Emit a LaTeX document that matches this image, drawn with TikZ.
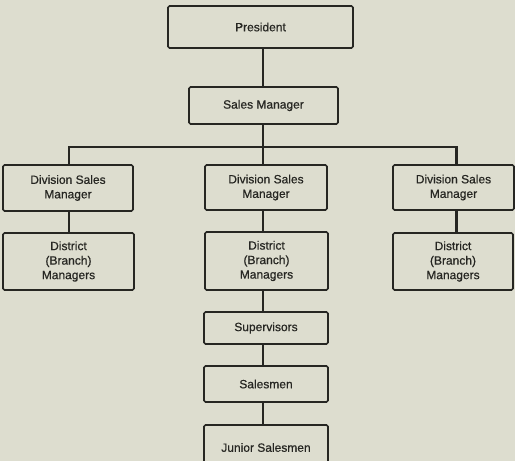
\documentclass[tikz,border=0pt]{standalone}
\usepackage{fontspec}
\setmainfont{Liberation Sans}
\newfontfamily\chartfont{Liberation Sans}[FakeBold=0.6]
\definecolor{paper}{RGB}{221,221,207}
\definecolor{ink}{RGB}{38,38,34}
\begin{document}
\begin{tikzpicture}[x=1pt,y=-1pt,
  box/.style={draw=ink, line width=1.6pt, rounded corners=1.5pt, align=center,
    inner sep=0pt, text=ink, font=\chartfont\fontsize{12}{14.5}\selectfont},
  link/.style={draw=ink, line width=2.2pt}]
\fill[paper] (0,0) rectangle (515,461);
\useasboundingbox (0,0) rectangle (515,461);
\clip (0,0) rectangle (515,461);

% top of the chart
\node[box, minimum width=185pt, minimum height=42pt] (pres)  at (260.5,27)  {President};
\node[box, minimum width=149pt, minimum height=37pt] (sales) at (263.5,105.5) {Sales Manager};

% division level
\node[box, minimum width=130pt, minimum height=46pt] (divL) at (68,188)    {Division Sales\\Manager};
\node[box, minimum width=122pt, minimum height=45pt] (divM) at (266,187.5) {Division Sales\\Manager};
\node[box, minimum width=121pt, minimum height=45pt] (divR) at (453.5,187.5) {Division Sales\\Manager};

% district level
\node[box, minimum width=131pt, minimum height=57pt] (distL) at (68.5,261.5) {District\\(Branch)\\Managers};
\node[box, minimum width=123pt, minimum height=58pt] (distM) at (266.5,261)  {District\\(Branch)\\Managers};
\node[box, minimum width=120pt, minimum height=57pt] (distR) at (453,261.5)  {District\\(Branch)\\Managers};

% field force
\node[box, minimum width=124pt, minimum height=32pt] (sup) at (266,328)   {Supervisors};
\node[box, minimum width=124pt, minimum height=36pt] (sm)  at (266,384)   {Salesmen};
\node[box, minimum width=124pt, minimum height=45pt] (jr)  at (266,447.5) {Junior Salesmen};

% connector columns and the bus
\coordinate (colL) at (69,0);
\coordinate (colM) at (263,0);
\coordinate (colR) at (456.5,0);
\coordinate (busL) at (69,147);
\coordinate (busM) at (263,147);
\coordinate (busR) at (456.5,147);

\draw[link] (pres.south -| colM) -- (sales.north -| colM);
\draw[link] (sales.south -| colM) -- (busM);
\draw[link, line join=miter] (divL.north -| colL) -- (busL) -- (busR) -- (divR.north -| colR);
\draw[link] (busM) -- (divM.north -| colM);

\draw[link] (divL.south -| colL) -- (distL.north -| colL);
\draw[link] (divM.south -| colM) -- (distM.north -| colM);
\draw[link] (divR.south -| colR) -- (distR.north -| colR);

\draw[link] (distM.south -| colM) -- (sup.north -| colM);
\draw[link] (sup.south -| colM) -- (sm.north -| colM);
\draw[link] (sm.south -| colM) -- (jr.north -| colM);
\end{tikzpicture}
\end{document}
